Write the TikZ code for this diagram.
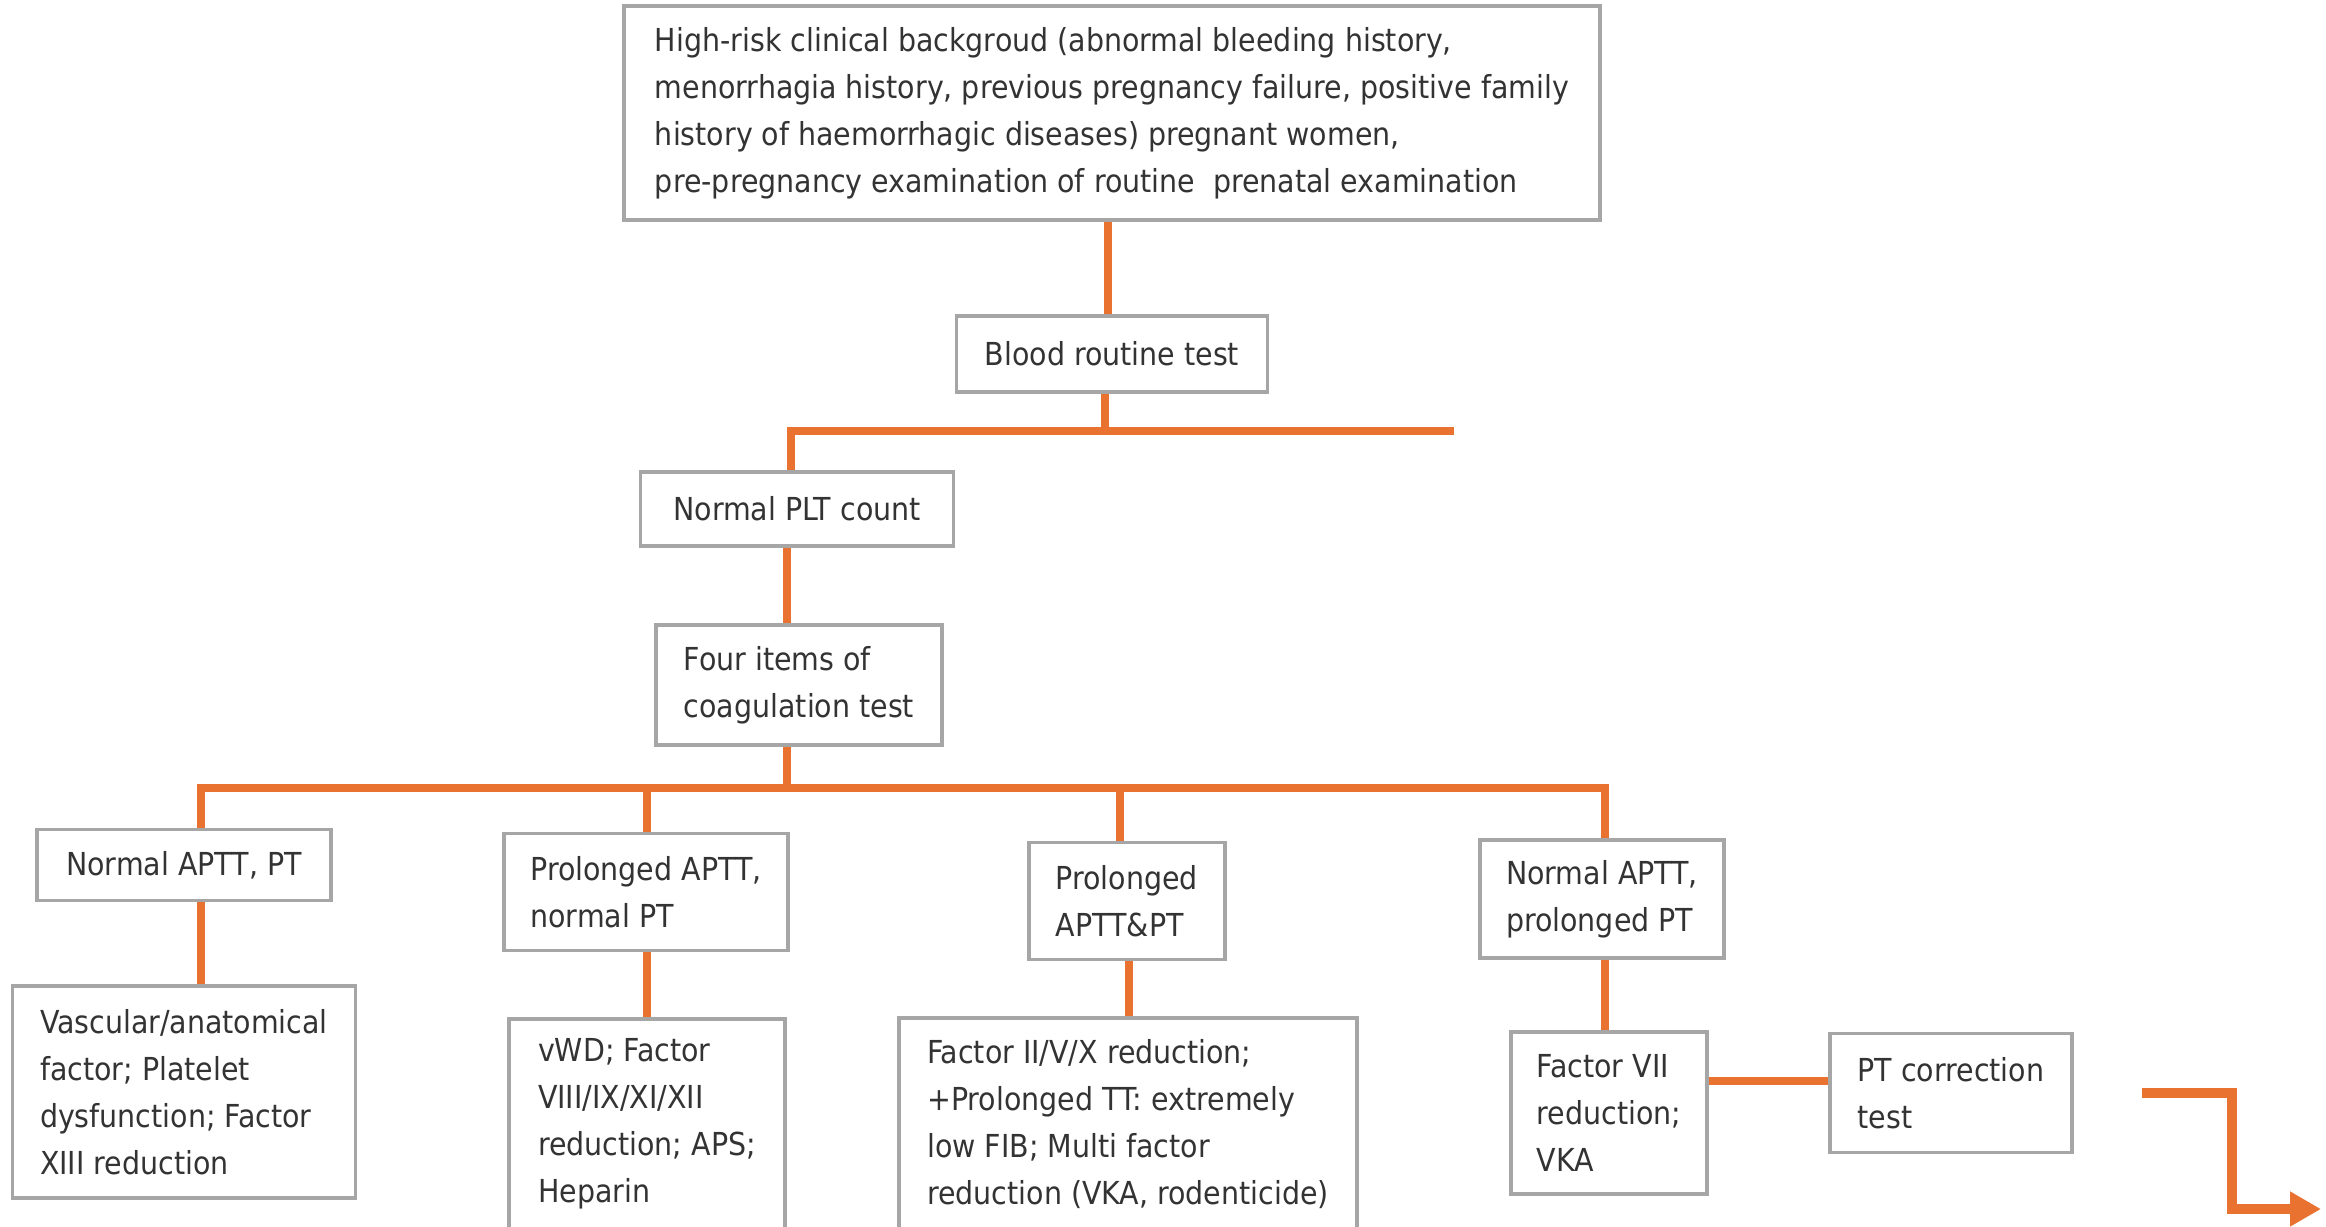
\documentclass[tikz,border=0pt]{standalone}
\usepackage{fontspec}
\setmainfont{DejaVu Sans Condensed}
\usepackage{tikz}
\usetikzlibrary{arrows.meta,calc}

\definecolor{flowline}{RGB}{233,114,49}
\tikzset{
  box/.style={draw=black!35,line width=1pt,fill=white,align=left,inner sep=0pt,
    text=black!80,font={\fontsize{9}{13.4}\selectfont}},
  link/.style={draw=flowline,line width=0.08cm},
}

\begin{document}
\begin{tikzpicture}[x=0.01cm,y=-0.01cm]
  \useasboundingbox (0,0) rectangle (2326,1226);
  \clip (0,0) rectangle (2326,1226);
  % boxes
  \node[box,minimum width=9.75cm,minimum height=2.14cm] (risk) at (1112,113)
    {High-risk clinical backgroud (abnormal bleeding history,\\
     menorrhagia history, previous pregnancy failure, positive family\\
     history of haemorrhagic diseases) pregnant women,\\
     pre-pregnancy examination of routine\ \ prenatal examination};
  \node[box,minimum width=3.11cm,minimum height=0.76cm] (blood) at (1112,354) {Blood routine test};
  \node[box,minimum width=3.13cm,minimum height=0.74cm] (plt) at (797,509) {Normal PLT count};
  \node[box,minimum width=2.86cm,minimum height=1.20cm] (four) at (799,685) {Four items of\\coagulation test};
  \node[box,minimum width=2.94cm,minimum height=0.71cm] (nap) at (184,865) {Normal APTT, PT};
  \node[box,minimum width=2.84cm,minimum height=1.17cm] (pan) at (646,892) {Prolonged APTT,\\normal PT};
  \node[box,minimum width=1.96cm,minimum height=1.17cm] (pap) at (1127,901) {Prolonged\\APTT\&PT};
  \node[box,minimum width=2.44cm,minimum height=1.18cm] (npp) at (1602,899) {Normal APTT,\\prolonged PT};
  \node[box,minimum width=3.43cm,minimum height=2.12cm] (vasc) at (184,1092)
    {Vascular/anatomical\\factor; Platelet\\dysfunction; Factor\\XIII reduction};
  \node[box,minimum width=2.76cm,minimum height=2.10cm] (vwd) at (647,1124)
    {vWD; Factor\\VIII/IX/XI/XII\\reduction; APS;\\Heparin};
  \node[box,minimum width=4.58cm,minimum height=2.12cm] (fac2) at (1128,1124)
    {Factor II/V/X reduction;\\+Prolonged TT: extremely\\low FIB; Multi factor\\reduction (VKA, rodenticide)};
  \node[box,minimum width=1.96cm,minimum height=1.62cm] (f7) at (1609,1113) {Factor VII\\reduction;\\VKA};
  \node[box,minimum width=2.42cm,minimum height=1.19cm] (ptc) at (1951,1093) {PT correction\\test};
  % x positions of the connectors
  \coordinate (xtop) at (1108,0);
  \coordinate (xblood) at (1105,0);
  \coordinate (xplt) at (791,0);
  \coordinate (xfour) at (787,0);
  \coordinate (xnap) at (201,0);
  \coordinate (xpan) at (647,0);
  \coordinate (xpap) at (1120,0);
  \coordinate (xpap2) at (1129,0);
  \coordinate (xnpp) at (1605,0);
  \coordinate (barR) at (1454,431);
  \coordinate (bar2) at (1120,788);
  \coordinate (ptcl) at ($(ptc.west)+(0,-12)$);
  % connectors
  \draw[link] (risk.south -| xtop) -- (blood.north -| xtop);
  \draw[link] (blood.south -| xblood) -- (barR -| xblood);
  \draw[link] (plt.north -| xplt) |- (barR);
  \draw[link] (plt.south -| xfour) -- (four.north -| xfour);
  \draw[link] (four.south -| xfour) -- (bar2 -| xfour);
  \draw[link] (nap.north -| xnap) |- (bar2) -| (npp.north -| xnpp);
  \draw[link] (pan.north -| xpan) -- (bar2 -| xpan);
  \draw[link] (pap.north -| xpap) -- (bar2 -| xpap);
  \draw[link] (nap.south -| xnap) -- (vasc.north -| xnap);
  \draw[link] (pan.south -| xpan) -- (vwd.north -| xpan);
  \draw[link] (pap.south -| xpap2) -- (fac2.north -| xpap2);
  \draw[link] (npp.south -| xnpp) -- (f7.north -| xnpp);
  \draw[link] (f7.east |- ptcl) -- (ptcl);
  % arrow at the lower right
  \coordinate (arrS) at (2142,1093);
  \coordinate (arrM) at (2232,1209);
  \coordinate (arrE) at (2321,1209);
  \draw[link,line width=0.1cm,-{Triangle[length=0.31cm,width=0.33cm]}] (arrS) -| (arrM) -- (arrE);
\end{tikzpicture}
\end{document}
